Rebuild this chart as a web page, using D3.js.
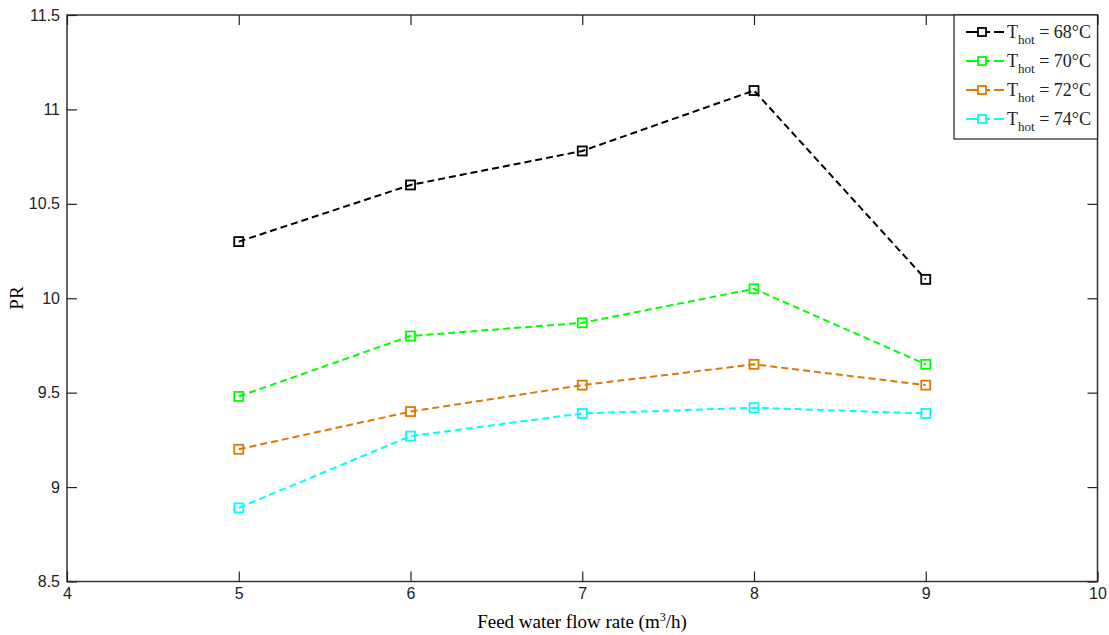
<!DOCTYPE html>
<html><head><meta charset="utf-8">
<script src="https://cdn.jsdelivr.net/npm/d3@7"></script>
<style>body{margin:0;background:#fff}svg{display:block}</style>
</head><body>
<svg id="c" width="1109" height="635"></svg>
<script>
const flowRates = [5, 6, 7, 8, 9];
const pr68 = [10.30, 10.60, 10.78, 11.10, 10.10];
const pr70 = [9.48, 9.80, 9.87, 10.05, 9.65];
const pr72 = [9.20, 9.40, 9.54, 9.65, 9.54];
const pr74 = [8.89, 9.27, 9.39, 9.42, 9.39];
const seriesLabels = ["68°C", "70°C", "72°C", "74°C"];
const seriesColors = ["#000000", "#00ff00", "#e07800", "#00ffff"];
const xTicks = [4, 5, 6, 7, 8, 9, 10];
const yTicks = [8.5, 9, 9.5, 10, 10.5, 11, 11.5];
const allSeries = [pr68, pr70, pr72, pr74];

const svg = d3.select("#c");
const L = 67, R = 1097.5, T = 15, B = 581.5;
const x = d3.scaleLinear().domain([4, 10]).range([L, R]);
const y = d3.scaleLinear().domain([8.5, 11.5]).range([B, T]);
const tickFont = "'Liberation Sans', Arial, sans-serif";
const serif = "'Liberation Serif', 'Times New Roman', serif";

// box
svg.append("rect").attr("x", L).attr("y", T).attr("width", R - L).attr("height", B - T)
  .attr("fill", "none").attr("stroke", "#333").attr("stroke-width", 1.5);

// axes with inward ticks
const tl = 10;
const ax = svg.append("g").attr("transform", `translate(0,${B})`)
  .call(d3.axisBottom(x).tickValues(xTicks).tickFormat(d3.format("d")).tickSize(-tl).tickPadding(6));
const axT = svg.append("g").attr("transform", `translate(0,${T})`)
  .call(d3.axisTop(x).tickValues(xTicks).tickFormat("").tickSize(-tl));
const ay = svg.append("g").attr("transform", `translate(${L},0)`)
  .call(d3.axisLeft(y).tickValues(yTicks).tickFormat(d => String(d)).tickSize(-tl).tickPadding(7));
const ayR = svg.append("g").attr("transform", `translate(${R},0)`)
  .call(d3.axisRight(y).tickValues(yTicks).tickFormat("").tickSize(-tl));
[ax, axT, ay, ayR].forEach(g => {
  g.select(".domain").remove();
  g.selectAll("line").attr("stroke", "#222").attr("stroke-width", 1.2);
  g.selectAll("text").attr("font-family", tickFont).attr("font-size", 16).attr("fill", "#222");
});

// labels
svg.append("text").attr("x", 582).attr("y", 628).attr("text-anchor", "middle")
  .attr("font-family", serif).attr("font-size", 19).attr("fill", "#000")
  .html('Feed water flow rate (m<tspan baseline-shift="super" font-size="12">3</tspan>/h)');
svg.append("text").attr("transform", "translate(23,298) rotate(-90)").attr("text-anchor", "middle")
  .attr("font-family", serif).attr("font-size", 19).attr("fill", "#000").text("PR");

// series
const line = d3.line().x((d, i) => x(flowRates[i])).y(d => y(d));
allSeries.forEach((s, k) => {
  const g = svg.append("g");
  g.append("path").attr("d", line(s)).attr("fill", "none").attr("stroke", seriesColors[k])
    .attr("stroke-width", 2).attr("stroke-dasharray", "7,4");
  g.selectAll("rect").data(s).join("rect")
    .attr("x", (d, i) => x(flowRates[i]) - 4.5).attr("y", d => y(d) - 4.5)
    .attr("width", 9).attr("height", 9).attr("fill", "none")
    .attr("stroke", seriesColors[k]).attr("stroke-width", 1.8);
});

// legend
const lg = svg.append("g");
lg.append("rect").attr("x", 954).attr("y", T).attr("width", R - 954).attr("height", 124)
  .attr("fill", "#fff").attr("stroke", "#222").attr("stroke-width", 1.2);
seriesLabels.forEach((lab, k) => {
  const cy = 32 + k * 29;
  lg.append("path").attr("d", `M966,${cy}H1004`).attr("stroke", seriesColors[k])
    .attr("stroke-width", 2).attr("stroke-dasharray", "11,6,7,4");
  lg.append("rect").attr("x", 978).attr("y", cy - 4).attr("width", 8).attr("height", 8)
    .attr("fill", "#fff").attr("stroke", seriesColors[k]).attr("stroke-width", 1.8);
  lg.append("text").attr("x", 1007).attr("y", cy + 6).attr("font-family", serif)
    .attr("font-size", 18).attr("fill", "#222")
    .html(`T<tspan dy="6" font-size="13">hot</tspan><tspan dy="-6"> = ${lab}</tspan>`);
});
</script>
</body></html>
